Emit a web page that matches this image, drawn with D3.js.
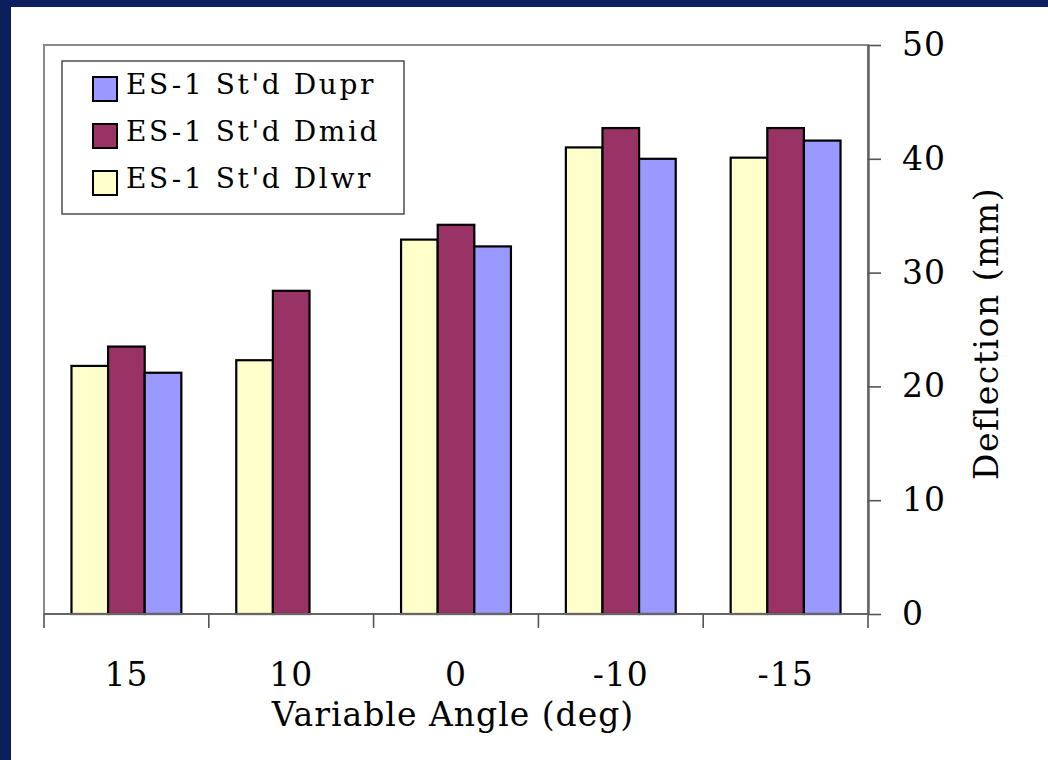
<!DOCTYPE html>
<html>
<head>
<meta charset="utf-8">
<script src="https://cdn.jsdelivr.net/npm/d3@7"></script>
<style>
  body { margin: 0; background: #0b1f5e; }
  svg { display: block; }
  text { font-family: "DejaVu Serif", serif; fill: #000; }
</style>
</head>
<body>
<script>
//chart values
var angles = ["15", "10", "0", "-10", "-15"];
var seriesNames = ["ES-1 St'd Dlwr", "ES-1 St'd Dmid", "ES-1 St'd Dupr"];
var dlwr = [21.8, 22.3, 32.9, 41.0, 40.1];
var dmid = [23.5, 28.4, 34.2, 42.7, 42.7];
var dupr = [21.2, null, 32.3, 40.0, 41.6];
var yTicks = [0, 10, 20, 30, 40, 50];
var colors = ["#ffffcc", "#993366", "#9999ff"];
//legend lists the series top-down in reverse order
var legendOrder = [2, 1, 0];

window.onload = drawChart();

function drawChart() {

    var width = 1048,
        height = 760;

    var svg = d3.select("body")
        .append("svg")
        .attr("width", width)
        .attr("height", height);

    //white page inside the navy frame
    svg.append("rect")
        .attr("x", 11)
        .attr("y", 7)
        .attr("width", width - 11)
        .attr("height", height - 7)
        .attr("fill", "#fff");

    var plot = { left: 44, top: 45, right: 868, bottom: 614 };

    var x = d3.scaleBand()
        .domain(angles)
        .range([plot.left, plot.right])
        .paddingInner(1 / 3)
        .paddingOuter(1 / 6);

    var xInner = d3.scaleBand()
        .domain(d3.range(seriesNames.length))
        .range([0, x.bandwidth()]);

    var y = d3.scaleLinear()
        .domain([0, 50])
        .range([plot.bottom, plot.top]);

    //plot area border
    svg.append("rect")
        .attr("x", plot.left)
        .attr("y", plot.top)
        .attr("width", plot.right - plot.left)
        .attr("height", plot.bottom - plot.top)
        .attr("fill", "none")
        .attr("stroke", "#888")
        .attr("stroke-width", 2);

    //bars
    var values = [dlwr, dmid, dupr];
    var bars = [];
    values.forEach(function (vals, s) {
        vals.forEach(function (v, i) {
            if (v !== null) bars.push({ s: s, cat: angles[i], v: v });
        });
    });

    svg.selectAll(".bar")
        .data(bars)
        .enter()
        .append("rect")
        .attr("class", "bar")
        .attr("x", function (d) { return x(d.cat) + xInner(d.s); })
        .attr("y", function (d) { return y(d.v); })
        .attr("width", xInner.bandwidth())
        .attr("height", function (d) { return y(0) - y(d.v); })
        .attr("fill", function (d) { return colors[d.s]; })
        .attr("stroke", "#000")
        .attr("stroke-width", 2.2);

    //x axis: line, boundary ticks, centered labels
    var step = x.step();
    var bounds = d3.range(angles.length + 1).map(function (i) { return plot.left + i * step; });

    svg.append("line")
        .attr("x1", plot.left)
        .attr("x2", plot.right)
        .attr("y1", plot.bottom)
        .attr("y2", plot.bottom)
        .attr("stroke", "#666")
        .attr("stroke-width", 2);

    svg.selectAll(".xtick")
        .data(bounds)
        .enter()
        .append("line")
        .attr("class", "xtick")
        .attr("x1", function (d) { return d; })
        .attr("x2", function (d) { return d; })
        .attr("y1", plot.bottom)
        .attr("y2", plot.bottom + 14)
        .attr("stroke", "#555")
        .attr("stroke-width", 1.6);

    var xAxis = svg.append("g")
        .attr("transform", "translate(0," + plot.bottom + ")")
        .call(d3.axisBottom(x).tickSize(0).tickPadding(49));
    xAxis.select(".domain").remove();
    xAxis.selectAll("text")
        .style("font-family", "DejaVu Serif")
        .style("font-size", "33px")
        .style("letter-spacing", "1px")
        .attr("fill", "#000");

    //y axis on the right
    var yAxis = svg.append("g")
        .attr("transform", "translate(" + plot.right + ",0)")
        .call(d3.axisRight(y).tickValues(yTicks).tickSize(13).tickPadding(21).tickSizeOuter(0));
    yAxis.select(".domain")
        .attr("stroke", "#666")
        .attr("stroke-width", 2.5);
    yAxis.selectAll(".tick line")
        .attr("stroke", "#555")
        .attr("stroke-width", 1.6);
    yAxis.selectAll("text")
        .style("font-family", "DejaVu Serif")
        .style("font-size", "33px")
        .style("letter-spacing", "1px")
        .attr("fill", "#000");

    //axis titles
    svg.append("text")
        .attr("x", (plot.left + plot.right) / 2 - 3)
        .attr("y", 726)
        .attr("text-anchor", "middle")
        .style("font-size", "33px")
        .style("letter-spacing", "1px")
        .text("Variable Angle (deg)");

    svg.append("text")
        .attr("transform", "translate(998," + ((plot.top + plot.bottom) / 2 + 4) + ") rotate(-90)")
        .attr("text-anchor", "middle")
        .style("font-size", "33px")
        .style("letter-spacing", "1.5px")
        .text("Deflection (mm)");

    //legend
    var legend = svg.append("g");
    legend.append("rect")
        .attr("x", 62)
        .attr("y", 61)
        .attr("width", 342)
        .attr("height", 153)
        .attr("fill", "#fff")
        .attr("stroke", "#333")
        .attr("stroke-width", 1.3);

    var items = legend.selectAll(".item")
        .data(legendOrder)
        .enter()
        .append("g")
        .attr("class", "item")
        .attr("transform", function (d, i) { return "translate(0," + (i * 47) + ")"; });

    items.append("rect")
        .attr("x", 93)
        .attr("y", 77)
        .attr("width", 24)
        .attr("height", 24)
        .attr("fill", function (d) { return colors[d]; })
        .attr("stroke", "#000")
        .attr("stroke-width", 2);

    items.append("text")
        .attr("x", 126)
        .attr("y", 94)
        .style("font-size", "28px")
        .style("letter-spacing", "2.6px")
        .text(function (d) { return seriesNames[d]; });
}
</script>
</body>
</html>
